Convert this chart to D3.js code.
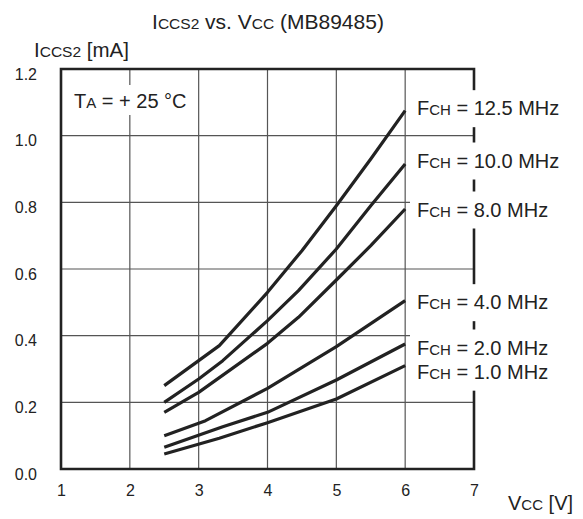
<!DOCTYPE html>
<html>
<head>
<meta charset="utf-8">
<script src="https://cdn.jsdelivr.net/npm/d3@7/dist/d3.min.js"></script>
<style>
  body { margin: 0; background: #fff; }
  text { font-family: "Liberation Sans", Arial, sans-serif; fill: #222; }
</style>
</head>
<body>
<div id="chart"></div>
<script>
// data (Iccs2 in mA vs Vcc in V)
var fchLabels = ["12.5", "10.0", "8.0", "4.0", "2.0", "1.0"];
var vcc_12_5 = [2.5, 3.3, 4.0, 4.5, 5.0, 5.5, 6.0];
var icc_12_5 = [0.25, 0.37, 0.53, 0.655, 0.79, 0.93, 1.075];
var vcc_10_0 = [2.5, 3.0, 3.35, 4.0, 4.45, 5.0, 5.5, 6.0];
var icc_10_0 = [0.20, 0.27, 0.325, 0.445, 0.535, 0.66, 0.79, 0.915];
var vcc_8_0 = [2.5, 3.0, 4.0, 4.45, 5.0, 5.5, 6.0];
var icc_8_0 = [0.17, 0.23, 0.377, 0.455, 0.567, 0.67, 0.78];
var vcc_4_0 = [2.5, 3.1, 4.0, 5.0, 6.0];
var icc_4_0 = [0.10, 0.145, 0.242, 0.367, 0.505];
var vcc_2_0 = [2.5, 3.35, 4.0, 5.0, 6.0];
var icc_2_0 = [0.065, 0.127, 0.17, 0.267, 0.375];
var vcc_1_0 = [2.5, 3.3, 4.0, 5.0, 6.0];
var icc_1_0 = [0.045, 0.092, 0.139, 0.21, 0.31];
var xTicks = [1, 2, 3, 4, 5, 6, 7];
var yTicks = [0.0, 0.2, 0.4, 0.6, 0.8, 1.0, 1.2];

var chart = {
	init: function () {
		var self = this;
		self.width = 583;
		self.height = 519;
		self.left = 61;
		self.right = 474;
		self.top = 69;
		self.bottom = 469;
		self.draw();
	},
	// text with a smaller run in the middle (subscript-like caps)
	addLabel: function (svg, x, y, size, small, parts, anchor) {
		var t = svg.append('text').attr('x', x).attr('y', y).attr('font-size', size)
			.attr('text-anchor', anchor || 'start');
		parts.forEach(function (p, i) {
			var s = t.append('tspan').text(p);
			if (i % 2 === 1) s.attr('font-size', small);
		});
		return t;
	},
	draw: function () {
		var self = this;
		var svg = d3.select('#chart').append('svg')
			.attr('width', self.width)
			.attr('height', self.height);

		var x = d3.scaleLinear().domain([1, 7]).range([self.left, self.right]);
		var y = d3.scaleLinear().domain([0, 1.2]).range([self.bottom, self.top]);

		// grid
		var grid = svg.append('g').attr('stroke', '#555').attr('stroke-width', 1.2);
		grid.selectAll('line.v').data(xTicks.slice(1, -1)).enter().append('line')
			.attr('x1', function (d) { return x(d); }).attr('x2', function (d) { return x(d); })
			.attr('y1', self.top).attr('y2', self.bottom);
		grid.selectAll('line.h').data(yTicks.slice(1, -1)).enter().append('line')
			.attr('x1', self.left).attr('x2', self.right)
			.attr('y1', function (d) { return y(d); }).attr('y2', function (d) { return y(d); });

		// frame
		svg.append('path')
			.attr('d', 'M' + self.left + ',' + self.top + 'V' + self.bottom + 'H' + self.right + 'V' + self.top + 'Z')
			.attr('fill', 'none').attr('stroke', '#222').attr('stroke-width', 2.6);

		// axes (labels only)
		var xAxis = svg.append('g')
			.attr('transform', 'translate(0,' + self.bottom + ')')
			.call(d3.axisBottom(x).tickValues(xTicks).tickFormat(d3.format('d')).tickSize(0).tickPadding(16));
		var yAxis = svg.append('g')
			.attr('transform', 'translate(' + (self.left - 24) + ',0)')
			.call(d3.axisLeft(y).tickValues(yTicks).tickFormat(d3.format('.1f')).tickSize(0).tickPadding(0));
		[xAxis, yAxis].forEach(function (a) {
			a.select('.domain').remove();
			a.selectAll('text').attr('font-size', 16).attr('font-family', '"Liberation Sans", Arial, sans-serif').attr('fill', '#222');
		});
		yAxis.selectAll('text').attr('dy', '0.85em').attr('y', -3.4);

		// white boxes behind the in-plot labels
		var series = [
			[vcc_12_5, icc_12_5], [vcc_10_0, icc_10_0], [vcc_8_0, icc_8_0],
			[vcc_4_0, icc_4_0], [vcc_2_0, icc_2_0], [vcc_1_0, icc_1_0]
		];
		var labelShift = [-2, -3, 1, 2, 4, 6.5];
		var labelBase = series.map(function (s, i) { return y(s[1][s[1].length - 1]) + labelShift[i] + 6.5; });

		svg.selectAll('rect.lbl').data(labelBase).enter().append('rect')
			.attr('x', 410).attr('width', 165)
			.attr('y', function (d) { return d - 25; }).attr('height', 37)
			.attr('fill', '#fff');
		svg.append('rect').attr('x', 70).attr('y', 85).attr('width', 122).attr('height', 30).attr('fill', '#fff');

		// curves
		var line = d3.line().x(function (d) { return x(d[0]); }).y(function (d) { return y(d[1]); });
		svg.append('g').selectAll('path').data(series).enter().append('path')
			.attr('d', function (s) { return line(d3.zip(s[0], s[1])); })
			.attr('fill', 'none').attr('stroke', '#222').attr('stroke-width', 3.2)
			.attr('stroke-linejoin', 'round');

		// labels
		fchLabels.forEach(function (f, i) {
			self.addLabel(svg, 417, labelBase[i], 20, 15, ['F', 'CH', ' = ' + f + ' MHz']);
		});
		self.addLabel(svg, 74, 107.5, 20, 15, ['T', 'A', ' = + 25 \u00b0C']);

		// titles
		self.addLabel(svg, 268, 29, 21, 15.5, ['I', 'CCS2', ' vs. V', 'CC', ' (MB89485)'], 'middle');
		self.addLabel(svg, 34, 57, 20.5, 15.5, ['I', 'CCS2', ' [mA]']);
		self.addLabel(svg, 508, 510, 20, 15, ['V', 'CC', ' [V]']);
	}
};

chart.init();
</script>
</body>
</html>
